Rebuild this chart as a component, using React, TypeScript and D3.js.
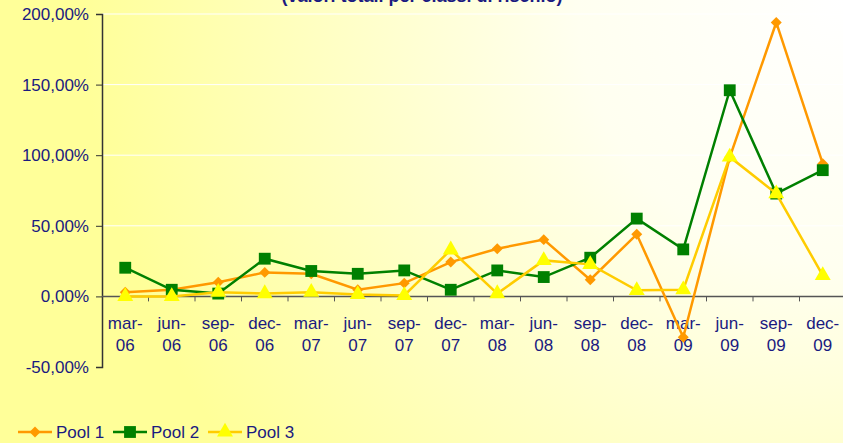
import React, { useEffect, useRef } from 'react';
import * as d3 from 'd3';

const categories = [
    'mar-06', 'jun-06', 'sep-06', 'dec-06',
    'mar-07', 'jun-07', 'sep-07', 'dec-07',
    'mar-08', 'jun-08', 'sep-08', 'dec-08',
    'mar-09', 'jun-09', 'sep-09', 'dec-09'
];

const pool1 = [3, 4.7, 10, 17, 16, 4.7, 9.4, 24.3, 33.8, 40.2, 11.8, 44, -28.9, 98.5, 194, 94];
const pool2 = [20.3, 4.7, 2, 26.7, 18, 16, 18.4, 4.7, 18.4, 13.7, 27.4, 55.1, 33.3, 146, 72.8, 89.4];
const pool3 = [0, 0, 3, 2, 3, 1.4, 0.7, 33, 2, 25.5, 22.7, 4.3, 4.7, 98.8, 72.8, 14.9];

const yTicks = [-50, 0, 50, 100, 150, 200];
const seriesNames = ['Pool 1', 'Pool 2', 'Pool 3'];
const title = '(valori totali per classi di rischio)';

const App = () => {
    const ref = useRef<SVGSVGElement>(null);

    useEffect(() => {
        if (!ref.current) return;
        const svg = d3.select(ref.current);
        svg.selectAll('*').remove();

        const W = 843, H = 443;
        const left = 102, top = 14, bottom = 367;
        const band = 46.5;
        const navy = '#1a1a80';
        const font = 'Liberation Sans, Arial, sans-serif';

        const defs = svg.append('defs');
        const grad = defs.append('radialGradient')
            .attr('id', 'bg')
            .attr('gradientUnits', 'userSpaceOnUse')
            .attr('cx', 843).attr('cy', 0).attr('r', 760);
        grad.append('stop').attr('offset', '0%').attr('stop-color', '#ffffff');
        grad.append('stop').attr('offset', '35%').attr('stop-color', '#fffff0');
        grad.append('stop').attr('offset', '100%').attr('stop-color', '#ffff99');

        svg.append('rect').attr('width', W).attr('height', H).attr('fill', 'url(#bg)');

        const x = d3.scaleBand()
            .domain(categories)
            .range([left, left + band * categories.length]);

        const y = d3.scaleLinear()
            .domain([-50, 200])
            .range([bottom, top]);

        // gridlines
        svg.append('g')
            .selectAll('line')
            .data(yTicks.filter(t => t > 0))
            .join('line')
            .attr('x1', left).attr('x2', W)
            .attr('y1', d => y(d)).attr('y2', d => y(d))
            .attr('stroke', '#ffffff')
            .attr('stroke-width', 1);

        // title (cut off at the top, as in the original)
        svg.append('text')
            .attr('x', 422).attr('y', 2)
            .attr('text-anchor', 'middle')
            .attr('font-family', font)
            .attr('font-weight', 'bold')
            .attr('font-size', 18)
            .attr('fill', navy)
            .text(title);

        // y axis
        const yAxis = svg.append('g')
            .attr('transform', `translate(${left},0)`)
            .call(d3.axisLeft(y).tickValues(yTicks).tickSize(6).tickPadding(7)
                .tickFormat(d => d3.format('.2f')(+d).replace('.', ',').replace('\u2212', '-') + '%'));
        yAxis.select('.domain').attr('stroke', '#333').attr('stroke-width', 1.5);
        yAxis.selectAll('.tick line').attr('stroke', '#333');
        yAxis.selectAll('text')
            .attr('font-family', font).attr('font-size', 17).attr('fill', navy);

        // x axis at 0
        const xAxis = svg.append('g').attr('transform', `translate(0,${y(0)})`);
        xAxis.append('line')
            .attr('x1', left).attr('x2', W)
            .attr('stroke', '#555').attr('stroke-width', 1.5);
        xAxis.selectAll('line.tk')
            .data(categories)
            .join('line')
            .attr('class', 'tk')
            .attr('x1', d => x(d)! + band).attr('x2', d => x(d)! + band)
            .attr('y1', 0).attr('y2', 5)
            .attr('stroke', '#555');
        const lbl = xAxis.selectAll('text')
            .data(categories)
            .join('text')
            .attr('text-anchor', 'middle')
            .attr('font-family', font)
            .attr('font-size', 17)
            .attr('fill', navy);
        lbl.append('tspan')
            .attr('x', d => x(d)! + band / 2).attr('y', 33)
            .text(d => d.split('-')[0] + '-');
        lbl.append('tspan')
            .attr('x', d => x(d)! + band / 2).attr('y', 55)
            .text(d => d.split('-')[1]);

        const series = [
            { name: seriesNames[0], values: pool1, line: '#ff9900', fill: '#ff9900', sym: d3.symbolSquare, size: 60, rot: 45 },
            { name: seriesNames[1], values: pool2, line: '#008000', fill: '#008000', sym: d3.symbolSquare, size: 140, rot: 0 },
            { name: seriesNames[2], values: pool3, line: '#ffcc00', fill: '#ffff00', sym: d3.symbolTriangle, size: 110, rot: 0 }
        ];

        const line = d3.line<number>()
            .x((_, i) => x(categories[i])! + band / 2)
            .y(d => y(d));

        series.forEach(s => {
            svg.append('path')
                .datum(s.values)
                .attr('fill', 'none')
                .attr('stroke', s.line)
                .attr('stroke-width', 2.5)
                .attr('d', line);
            svg.append('g')
                .selectAll('path')
                .data(s.values)
                .join('path')
                .attr('transform', (d, i) => `translate(${x(categories[i])! + band / 2},${y(d)}) rotate(${s.rot})`)
                .attr('d', d3.symbol().type(s.sym).size(s.size)())
                .attr('fill', s.fill);
        });

        // legend
        const legend = svg.append('g').attr('transform', 'translate(18,432)');
        series.forEach((s, i) => {
            const g = legend.append('g').attr('transform', `translate(${i * 95},0)`);
            g.append('line').attr('x1', 0).attr('x2', 34)
                .attr('stroke', s.line).attr('stroke-width', 2.5);
            g.append('path')
                .attr('transform', `translate(17,0) rotate(${s.rot})`)
                .attr('d', d3.symbol().type(s.sym).size(s.size)())
                .attr('fill', s.fill);
            g.append('text')
                .attr('x', 38).attr('y', 6)
                .attr('font-family', font).attr('font-size', 17)
                .attr('fill', navy)
                .text(s.name);
        });
    }, []);

    return (
        <svg
            ref={ref}
            width={843}
            height={443}
            style={{ position: 'absolute', left: 0, top: 0 }}
        />
    );
};

export default App;
